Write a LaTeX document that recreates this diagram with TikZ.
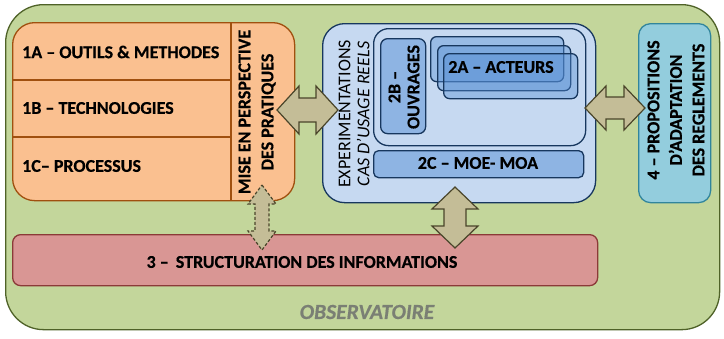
\documentclass[tikz,border=0pt]{standalone}
\usepackage{fontspec}
\setmainfont{Carlito}[BoldFeatures={FakeBold=0.5}, BoldItalicFeatures={FakeBold=0.5}]
\definecolor{greenF}{HTML}{C3D69B}
\definecolor{greenD}{HTML}{4F6228}
\definecolor{orangeF}{HTML}{FAC090}
\definecolor{orangeD}{HTML}{A0500F}
\definecolor{blueF}{HTML}{C6D9F1}
\definecolor{blueD}{HTML}{17375E}
\definecolor{blueM}{HTML}{8EB4E3}
\definecolor{blueS}{HTML}{558ED5}
\definecolor{cyanF}{HTML}{93CDDD}
\definecolor{cyanD}{HTML}{31859C}
\definecolor{redF}{HTML}{D99694}
\definecolor{redD}{HTML}{8B3A38}
\definecolor{tanF}{HTML}{C4BD97}
\definecolor{tanD}{HTML}{4A452A}
\definecolor{grayT}{HTML}{7A7F74}
\tikzset{
  bx/.style={draw, rounded corners=#1, line width=1.3pt, inner sep=0pt, anchor=north west},
  lbl/.style={font=\fontsize{18}{22}\selectfont\bfseries, inner sep=0pt},
  vlbl/.style={font=\fontsize{18}{22}\selectfont, inner sep=0pt, rotate=90, align=center},
  blockarrow/.style={draw=tanD, fill=tanF, line width=1.2pt, line join=miter},
}
\begin{document}
\begin{tikzpicture}[x=1pt,y=-1pt]
\useasboundingbox (0,0) rectangle (724,338);
% outer observatoire
\node[bx=38pt, fill=greenF, draw=greenD, minimum width=714pt, minimum height=325pt] (obs) at (5,4) {};
\node[font=\fontsize{21.5}{24}\selectfont\bfseries\itshape, text=grayT, inner sep=0pt] (obst) at (367,312) {OBSERVATOIRE};
% red box
\node[bx=8pt, fill=redF, draw=redD, minimum width=585pt, minimum height=51pt] (red) at (12,234) {};
\node[lbl] (redt) at (302,262) {3 –\, STRUCTURATION DES INFORMATIONS};
% orange box
\node[bx=22pt, fill=orangeF, draw=orangeD, minimum width=282pt, minimum height=178pt] (orange) at (12,22) {};
\draw[orangeD, line width=1.3pt] (12,80) -- (231,80) (12,137) -- (231,137) (231,22) -- (231,200);
\node[lbl, anchor=west] (l1a) at (22,52) {1A – OUTILS \& METHODES};
\node[lbl, anchor=west] (l1b) at (22,108) {1B – TECHNOLOGIES};
\node[lbl, anchor=west] (l1c) at (22,166) {1C– PROCESSUS};
\node[vlbl, font=\fontsize{18}{23}\selectfont\bfseries] (mise) at (257,112) {MISE EN PERSPECTIVE\\DES PRATIQUES};
% blue box
\node[bx=22pt, fill=blueF, draw=blueD, minimum width=273pt, minimum height=179pt] (exp) at (322,23) {};
\node[vlbl, font=\fontsize{18}{19}\selectfont] (expt) at (354,114) {EXPERIMENTATIONS\\\textit{CAS D’USAGE REELS}};
\node[bx=15pt, draw=blueD, minimum width=212pt, minimum height=117pt] (inner) at (373,28) {};
\node[bx=7pt, fill=blueM, draw=blueD, minimum width=45pt, minimum height=95pt] (b2b) at (380,38) {};
\node[vlbl, font=\fontsize{18}{19}\selectfont\bfseries] (b2bt) at (404,87) {2B –\\OUVRAGES};
\node[bx=6pt, fill=blueS, fill opacity=0.4, draw=blueD, minimum width=133pt, minimum height=45pt] (a1) at (430,36) {};
\node[bx=6pt, fill=blueS, fill opacity=0.4, draw=blueD, minimum width=133pt, minimum height=45pt] (a2) at (437,45) {};
\node[bx=6pt, fill=blueS, fill opacity=0.4, draw=blueD, minimum width=134pt, minimum height=45pt] (a3) at (443,53) {};
\node[lbl] (a2t) at (501,67) {2A – ACTEURS};
\node[bx=5pt, fill=blueM, draw=blueD, minimum width=210pt, minimum height=27pt] (c2) at (373,150) {};
\node[lbl] (c2t) at (478,163) {2C – MOE- MOA};
% box 4
\node[bx=12pt, fill=cyanF, draw=cyanD, minimum width=72pt, minimum height=179pt] (prop) at (638,23) {};
\node[vlbl, font=\fontsize{18}{22.5}\selectfont\bfseries] (propt) at (676,110) {4 – PROPOSITIONS\\D’ADAPTATION\\DES REGLEMENTS};
% block arrows
\draw[blockarrow] (277,110) -- (299,86) -- (299,98) -- (316,98) -- (316,86) -- (338,110) -- (316,134) -- (316,122) -- (299,122) -- (299,134) -- cycle;
\draw[blockarrow] (585,108) -- (606,86) -- (606,97) -- (624,97) -- (624,86) -- (645,108) -- (624,130) -- (624,119) -- (606,119) -- (606,130) -- cycle;
\draw[blockarrow] (455,187) -- (478,209) -- (466,209) -- (466,226) -- (478,226) -- (455,248) -- (432,226) -- (444,226) -- (444,209) -- (432,209) -- cycle;
\draw[blockarrow, dashed, dash pattern=on 3pt off 2pt] (262,185) -- (276,204) -- (269,204) -- (269,231) -- (276,231) -- (262,250) -- (248,231) -- (255,231) -- (255,204) -- (248,204) -- cycle;
\end{tikzpicture}
\end{document}
